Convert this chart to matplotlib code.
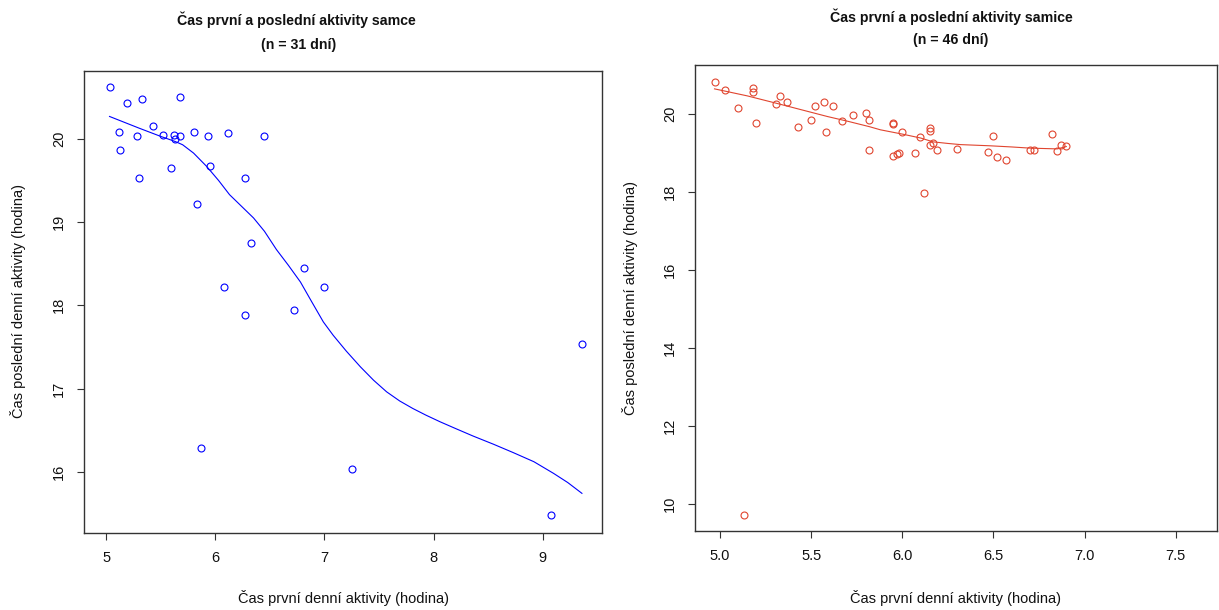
#%% Imports
import matplotlib
matplotlib.use('Agg')
import matplotlib.pyplot as plt

#%% Data (hours)
# male: first / last daily activity
samec_prvni = [5.03, 5.19, 5.33, 5.68, 5.12, 5.28, 5.13, 5.43, 5.52, 5.62, 5.63,
               5.68, 5.80, 5.93, 6.12, 6.45, 5.30, 5.59, 5.95, 6.27, 5.83, 6.33,
               6.81, 6.08, 7.00, 6.27, 6.72, 9.36, 5.87, 7.25, 9.08]
samec_posledni = [20.62, 20.43, 20.48, 20.50, 20.08, 20.03, 19.87, 20.15, 20.05, 20.05, 20.00,
                  20.03, 20.08, 20.03, 20.07, 20.04, 19.53, 19.65, 19.67, 19.53, 19.22, 18.75,
                  18.45, 18.22, 18.22, 17.88, 17.94, 17.53, 16.28, 16.03, 15.48]
# smoothed curve (lowess) for male
samec_lowess_x = [5.03, 5.30, 5.50, 5.63, 5.70, 5.80, 5.92, 6.03, 6.13, 6.24, 6.35, 6.45,
                  6.56, 6.67, 6.78, 6.88, 6.99, 7.08, 7.20, 7.33, 7.45, 7.57, 7.69,
                  7.81, 7.93, 8.06, 8.20, 8.36, 8.55, 8.73, 8.92, 9.10, 9.23, 9.36]
samec_lowess_y = [20.27, 20.13, 20.03, 19.97, 19.93, 19.83, 19.67, 19.50, 19.33, 19.19, 19.05, 18.89,
                  18.67, 18.48, 18.28, 18.05, 17.80, 17.64, 17.45, 17.26, 17.10, 16.96, 16.85,
                  16.76, 16.68, 16.60, 16.52, 16.43, 16.33, 16.23, 16.12, 15.98, 15.87, 15.74]

# female: first / last daily activity
samice_prvni = [4.97, 5.03, 5.18, 5.18, 5.10, 5.20, 5.33, 5.31, 5.37, 5.43, 5.50,
                5.52, 5.57, 5.58, 5.62, 5.67, 5.73, 5.80, 5.82, 5.82, 5.95, 5.95,
                5.95, 5.97, 5.98, 6.00, 6.07, 6.10, 6.15, 6.15, 6.15, 6.17, 6.19,
                6.12, 6.30, 6.50, 6.47, 6.52, 6.57, 6.70, 6.72, 6.82, 6.85, 6.87,
                6.90, 5.13]
samice_posledni = [20.82, 20.62, 20.66, 20.58, 20.17, 19.77, 20.47, 20.26, 20.32, 19.67, 19.85,
                   20.20, 20.32, 19.54, 20.20, 19.82, 19.97, 20.04, 19.86, 19.09, 19.78, 19.75,
                   18.93, 18.98, 19.01, 19.54, 19.01, 19.41, 19.64, 19.56, 19.21, 19.26, 19.09,
                   17.99, 19.12, 19.44, 19.04, 18.89, 18.82, 19.07, 19.07, 19.49, 19.05, 19.22,
                   19.19, 9.73]
samice_lowess_x = [4.97, 5.15, 5.31, 5.45, 5.59, 5.70, 5.82, 5.88, 6.00, 6.10, 6.17,
                   6.25, 6.32, 6.48, 6.60, 6.70, 6.85, 6.90]
samice_lowess_y = [20.65, 20.47, 20.28, 20.11, 19.94, 19.82, 19.68, 19.60, 19.49, 19.39, 19.29,
                   19.25, 19.22, 19.19, 19.16, 19.13, 19.11, 19.17]

#%% Plotting parameters (R base graphics look)
plt.rcParams['font.family'] = ['Liberation Sans', 'DejaVu Sans']
plt.rcParams['font.size'] = 10.5
plt.rcParams['axes.linewidth'] = 1.0
plt.rcParams['axes.edgecolor'] = '#333333'
plt.rcParams['xtick.major.size'] = 5
plt.rcParams['ytick.major.size'] = 5
plt.rcParams['xtick.major.pad'] = 8
plt.rcParams['ytick.major.pad'] = 8
plt.rcParams['xtick.color'] = '#333333'
plt.rcParams['ytick.color'] = '#333333'
plt.rcParams['xtick.labelcolor'] = '#111111'
plt.rcParams['ytick.labelcolor'] = '#111111'
plt.rcParams['text.color'] = '#111111'

W, H = 1219, 610
fig = plt.figure(figsize=(W / 100, H / 100), dpi=100)

def px_axes(left, top, right, bottom):
    return fig.add_axes([left / W, 1 - bottom / H, (right - left) / W, (bottom - top) / H])

xlabel = 'Čas první denní aktivity (hodina)'
ylabel = 'Čas poslední denní aktivity (hodina)'

#%% Left panel: male
ax1 = px_axes(84, 70.7, 602, 532.7)
ax1.plot(samec_prvni, samec_posledni, 'o', mfc='none', mec='#0000FF', ms=5, mew=0.8)
ax1.plot(samec_lowess_x, samec_lowess_y, '-', color='#0000FF', lw=0.8)
ax1.set_xlim(4.796, 9.544)
ax1.set_ylim(15.267, 20.82)
ax1.set_xticks([5, 6, 7, 8, 9])
ax1.set_yticks([16, 17, 18, 19, 20])
for lab in ax1.get_yticklabels():
    lab.set_rotation(90)
    lab.set_va('center')
fig.text(296 / W, 1 - 20 / H, 'Čas první a poslední aktivity samce',
         ha='center', va='center', fontweight='bold', fontsize=10.2)
fig.text(299 / W, 1 - 45 / H, '(n = 31 dní)',
         ha='center', va='center', fontweight='bold', fontsize=10.2)
fig.text(343 / W, 1 - 598 / H, xlabel, ha='center', va='center')
fig.text(18 / W, 1 - 301 / H, ylabel, ha='center', va='center', rotation=90)

#%% Right panel: female
ax2 = px_axes(695, 64.7, 1216.7, 531.3)
ax2.plot(samice_prvni, samice_posledni, 'o', mfc='none', mec='#E0452F', ms=5, mew=0.8)
ax2.plot(samice_lowess_x, samice_lowess_y, '-', color='#E0452F', lw=0.8)
ax2.set_xlim(4.863, 7.725)
ax2.set_ylim(9.30, 21.27)
ax2.set_xticks([5.0, 5.5, 6.0, 6.5, 7.0, 7.5])
ax2.set_xticklabels(['5.0', '5.5', '6.0', '6.5', '7.0', '7.5'])
ax2.set_yticks([10, 12, 14, 16, 18, 20])
for lab in ax2.get_yticklabels():
    lab.set_rotation(90)
    lab.set_va('center')
fig.text(951 / W, 1 - 17 / H, 'Čas první a poslední aktivity samice',
         ha='center', va='center', fontweight='bold', fontsize=10.2)
fig.text(951 / W, 1 - 40 / H, '(n = 46 dní)',
         ha='center', va='center', fontweight='bold', fontsize=10.2)
fig.text(956 / W, 1 - 598 / H, xlabel, ha='center', va='center')
fig.text(630 / W, 1 - 298 / H, ylabel, ha='center', va='center', rotation=90)

fig.savefig('out.png', dpi=100)
